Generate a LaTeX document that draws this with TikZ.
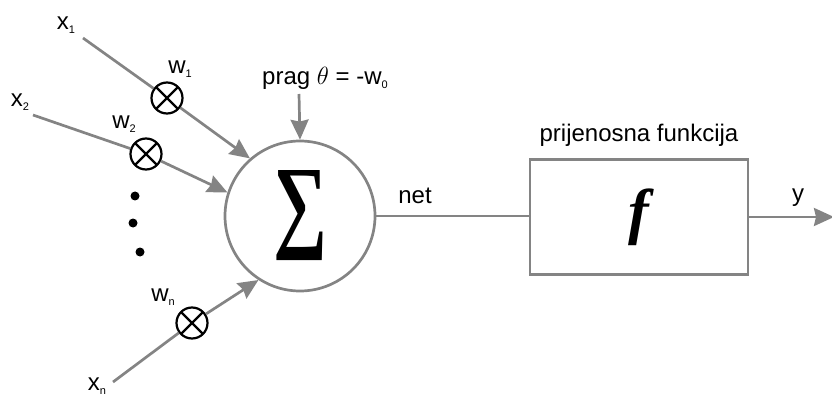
\documentclass[tikz,border=0pt]{standalone}
\usepackage{fontspec}
\setmainfont{Liberation Sans}
\newfontfamily\serifbi{Liberation Serif}
\usetikzlibrary{arrows.meta}
\definecolor{wiregray}{RGB}{132,132,132}
\newcommand{\ind}[2]{#1\raisebox{-4pt}{\fontsize{11}{11}\selectfont #2}}
\tikzset{
  lbl/.style={inner sep=0pt,font=\fontsize{24}{28}\selectfont},
  wire/.style={draw=wiregray,line width=2.7pt},
  mult/.style={circle,draw=black,line width=2.2pt,minimum size=31pt,inner sep=0pt,
    path picture={\draw[line width=2.2pt]
      (path picture bounding box.north west) -- (path picture bounding box.south east)
      (path picture bounding box.south west) -- (path picture bounding box.north east);}},
  blob/.style={circle,fill=black,minimum size=9pt,inner sep=0pt},
}
\begin{document}
\begin{tikzpicture}[>={Stealth[length=20pt,width=18pt,inset=2pt]},x=1pt,y=-1pt]
		\useasboundingbox (0,0) rectangle (832,398);
		% neuron and transfer function
		\node[circle,draw=wiregray,line width=2.7pt,minimum size=150pt,inner sep=0pt] (sum) at (300,216) {\resizebox{54pt}{68pt}{\serifbi\bfseries ∑}};
		\node[draw=wiregray,line width=2.7pt,minimum width=218pt,minimum height=115pt] (tf) at (639,217) {\serifbi\bfseries\itshape\fontsize{62}{62}\selectfont f};
		% inputs
		\coordinate (s1) at (83,38);
		\coordinate (s2) at (33,115);
		\coordinate (sn) at (113,382);
		\node[mult] (m1) at (167,98) {};
		\node[mult] (m2) at (146,154) {};
		\node[mult] (mn) at (192,323) {};
		\draw[wire] (s1) -- (m1);
		\draw[wire] (s2) -- (m2);
		\draw[wire] (sn) -- (mn);
		\draw[wire,->] (m1) -- (sum.131);
		\draw[wire,->] (m2) -- (sum.162);
		\draw[wire,->] (mn) -- (sum.237);
		\node[blob] (d1) at (135,196) {};
		\node[blob] (d2) at (133,223) {};
		\node[blob] (d3) at (140,252) {};
		% labels
		\node[lbl] (x1) at (66,25) {\ind{x}{1}};
		\node[lbl] (x2) at (20,102) {\ind{x}{2}};
		\node[lbl] (xn) at (97,386) {\ind{x}{n}};
		\node[lbl] (w1) at (180,69) {\ind{w}{1}};
		\node[lbl] (w2) at (124,124) {\ind{w}{2}};
		\node[lbl] (wn) at (163,297) {\ind{w}{n}};
		\node[lbl] (prag) at (325,78) {prag $\theta$ = -\ind{w}{0}};
		\coordinate (th) at (299,94);
		\draw[wire,->] (th) -- (sum.north);
		% output
		\draw[wire] (sum.east) -- (sum.east -| tf.west);
		\node[lbl] (net) at (415,196) {net};
		\node[lbl] (tfname) at (639,135) {prijenosna funkcija};
		\coordinate (out) at (834,217);
		\draw[wire,->] (tf.east) -- (out);
		\node[lbl] (y) at (798,198) {y};
\end{tikzpicture}
\end{document}
